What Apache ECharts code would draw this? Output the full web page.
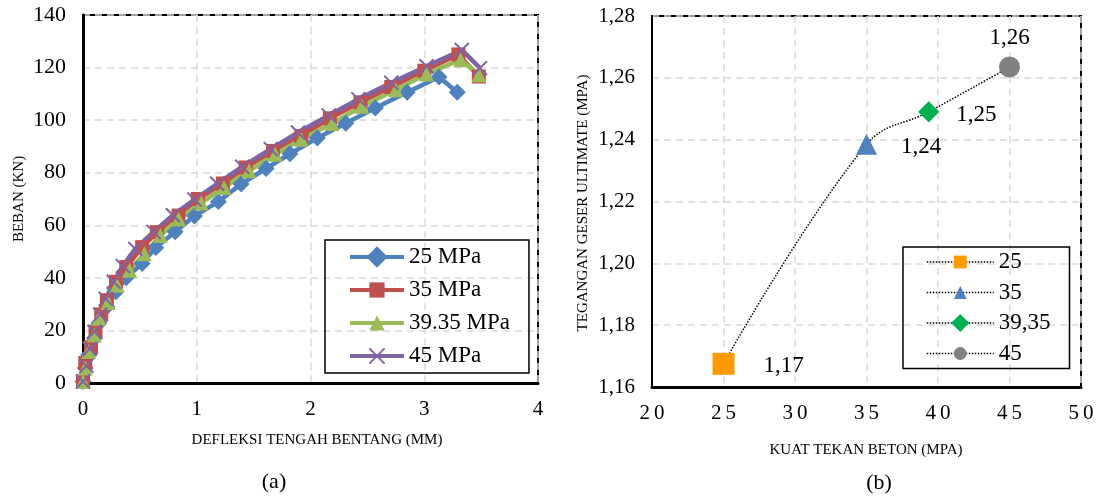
<!DOCTYPE html>
<html>
<head>
<meta charset="utf-8">
<script src="https://cdn.jsdelivr.net/npm/echarts@6/dist/echarts.min.js"></script>
<style>
  html, body { margin: 0; padding: 0; background: #fff; }
  #main { width: 1097px; height: 497px; }
</style>
</head>
<body>
<div id="main"></div>
<script>
// (a) beban vs defleksi
const def25 = [0, 0.02, 0.05, 0.10, 0.14, 0.21, 0.29, 0.38, 0.52, 0.64, 0.81, 0.98, 1.19, 1.39, 1.61, 1.82, 2.06, 2.31, 2.57, 2.85, 3.13, 3.29]
const load25 = [0.6, 5.7, 10.7, 17, 22.7, 29, 34.7, 40, 45.5, 51.5, 57.5, 63.5, 69, 75.7, 81.6, 87.2, 93.2, 98.8, 104.6, 110.6, 116.4, 110.6]
const def35 = [0, 0.02, 0.07, 0.11, 0.16, 0.21, 0.29, 0.38, 0.52, 0.65, 0.84, 1.01, 1.23, 1.43, 1.67, 1.92, 2.17, 2.44, 2.71, 3.00, 3.30, 3.48]
const load35 = [0.6, 7.6, 13.6, 19.5, 26.1, 31.5, 38.5, 44.1, 51.7, 57.4, 63.7, 70, 75.9, 82, 88.3, 94, 100.7, 106.8, 112.6, 118.8, 125, 116.6]
const def39 = [0, 0.02, 0.05, 0.10, 0.14, 0.22, 0.30, 0.41, 0.54, 0.68, 0.84, 1.04, 1.24, 1.46, 1.69, 1.92, 2.19, 2.45, 2.75, 3.02, 3.32, 3.48]
const load39 = [0.6, 5.7, 12, 18.3, 24.6, 30.6, 37.2, 42.9, 49.2, 56.1, 62.4, 68.5, 74.4, 80.7, 87, 92.7, 98.7, 105.3, 111.6, 117.6, 123, 117.3]
const def45 = [0, 0.03, 0.06, 0.10, 0.15, 0.20, 0.27, 0.35, 0.46, 0.62, 0.79, 0.98, 1.18, 1.40, 1.65, 1.89, 2.16, 2.42, 2.71, 3.02, 3.33, 3.49]
const load45 = [0.6, 6.5, 13, 19.5, 26, 32, 38.5, 44.5, 51, 57.5, 63.8, 69.8, 75.8, 82.3, 89, 95.3, 101.8, 108, 114.2, 120.5, 126.7, 119.8]
const namesA = ['25 MPa', '35 MPa', '39.35 MPa', '45 MPa']

// (b) tegangan geser vs kuat tekan
const kuatTekan = [25, 35, 39.35, 45]
const teganganGeser = [1.1675, 1.2385, 1.249, 1.2635]
const namesB = ['25', '35', '39,35', '45']

const serif = 'Liberation Serif'
const pairs = (xs, ys) => xs.map((x, i) => [x, ys[i]])
const comma = (v, d) => v.toFixed(d).replace('.', ',')

const gridLine = { show: true, lineStyle: { color: '#d9d9d9', width: 1.5, type: [7, 5] } }
const tickText = { fontFamily: serif, fontSize: 21, color: '#000' }

function lineSeries(name, xs, ys, color, symbol, extra) {
  return Object.assign({
    name: name,
    type: 'line',
    xAxisIndex: 0,
    yAxisIndex: 0,
    data: pairs(xs, ys),
    symbol: symbol,
    symbolSize: 14,
    lineStyle: { width: 4.5, color: color },
    itemStyle: { color: color },
    emphasis: { disabled: true },
    animation: false
  }, extra || {})
}

const colorsB = ['#ff9900', '#4f81bd', '#00b050', '#808080']
const symbolsB = ['rect', 'triangle', 'rect', 'circle']
const sizesB = [22, 21, 15, 21]
const labelPos = [
  { position: 'right', distance: 29, offset: [0, 2] },
  { position: 'right', distance: 24, offset: [0, 3] },
  { position: 'right', distance: 17, offset: [0, 3] },
  { position: 'top', distance: 7 }
]

const pointSeries = kuatTekan.map((x, i) => ({
  name: namesB[i],
  type: 'line',
  xAxisIndex: 1,
  yAxisIndex: 1,
  data: [[x, teganganGeser[i]]],
  symbol: symbolsB[i],
  symbolSize: sizesB[i],
  symbolRotate: i === 2 ? 45 : 0,
  itemStyle: { color: colorsB[i] },
  lineStyle: { type: 'dotted', color: '#000', width: 1.5 },
  label: Object.assign({
    show: true,
    fontFamily: serif,
    fontSize: 23,
    color: '#000',
    formatter: p => comma(p.value[1], 2)
  }, labelPos[i]),
  emphasis: { disabled: true },
  z: 5,
  animation: false
}))

const chart = echarts.init(document.getElementById('main'))
chart.setOption({
  backgroundColor: '#fff',
  animation: false,
  grid: [
    { left: 83, top: 15, width: 455, height: 368, show: true, borderColor: '#000', borderWidth: 2 },
    { left: 652, top: 16, width: 429, height: 371, show: true, borderColor: '#000', borderWidth: 2 }
  ],
  xAxis: [
    {
      gridIndex: 0, type: 'value', min: 0, max: 4, interval: 1,
      axisLine: { show: true, onZero: false, lineStyle: { color: '#000', width: 3 } },
      axisTick: { show: false },
      axisLabel: Object.assign({ margin: 16 }, tickText),
      splitLine: gridLine
    },
    {
      gridIndex: 1, type: 'value', min: 20, max: 50, interval: 5,
      axisLine: { show: true, onZero: false, lineStyle: { color: '#000', width: 3 } },
      axisTick: { show: false },
      axisLabel: Object.assign({ margin: 16, formatter: v => String(v).split('').join('\u2009') }, tickText),
      splitLine: gridLine
    }
  ],
  yAxis: [
    {
      gridIndex: 0, type: 'value', min: 0, max: 140, interval: 20,
      axisLine: { show: true, lineStyle: { color: '#000', width: 3 } },
      axisTick: { show: false },
      axisLabel: Object.assign({ margin: 17 }, tickText, { fontSize: 22 }),
      splitLine: gridLine
    },
    {
      gridIndex: 1, type: 'value', min: 1.16, max: 1.28, interval: 0.02,
      axisLine: { show: true, lineStyle: { color: '#000', width: 2 } },
      axisTick: { show: false },
      axisLabel: Object.assign({ margin: 17, formatter: v => comma(v, 2) }, tickText),
      splitLine: gridLine
    }
  ],
  legend: [
    {
      data: namesA,
      orient: 'vertical',
      left: 325,
      top: 240,
      padding: [5.5, 19, 5.5, 23],
      itemWidth: 54,
      itemHeight: 19,
      itemGap: 10,
      borderColor: '#000',
      borderWidth: 1.5,
      lineStyle: { width: 4 },
      textStyle: { fontFamily: serif, fontSize: 23, color: '#000', lineHeight: 23 }
    },
    {
      data: namesB,
      orient: 'vertical',
      left: 903,
      top: 247,
      padding: [3.5, 19, 3.5, 23],
      itemWidth: 67,
      itemHeight: 16,
      itemGap: 7.5,
      borderColor: '#000',
      borderWidth: 1.5,
      lineStyle: { width: 1.5, type: 'dotted', color: '#000' },
      textStyle: { fontFamily: serif, fontSize: 23, color: '#000', lineHeight: 23 }
    }
  ],
  graphic: [
    { type: 'text', x: 19, y: 199, rotation: Math.PI / 2, style: { text: 'BEBAN (KN)', font: '15px "Liberation Serif"', fill: '#000', textAlign: 'center', textVerticalAlign: 'middle' } },
    { type: 'text', x: 317, y: 440, style: { text: 'DEFLEKSI TENGAH BENTANG (MM)', font: '15px "Liberation Serif"', fill: '#000', textAlign: 'center', textVerticalAlign: 'middle' } },
    { type: 'text', x: 583, y: 203, rotation: Math.PI / 2, style: { text: 'TEGANGAN GESER ULTIMATE (MPA)', font: '15px "Liberation Serif"', fill: '#000', textAlign: 'center', textVerticalAlign: 'middle' } },
    { type: 'text', x: 866, y: 450, style: { text: 'KUAT TEKAN BETON (MPA)', font: '15px "Liberation Serif"', fill: '#000', textAlign: 'center', textVerticalAlign: 'middle' } },
    { type: 'text', x: 274, y: 482, style: { text: '(a)', font: '22px "Liberation Serif"', fill: '#000', textAlign: 'center', textVerticalAlign: 'middle' } },
    { type: 'text', x: 879, y: 483, style: { text: '(b)', font: '22px "Liberation Serif"', fill: '#000', textAlign: 'center', textVerticalAlign: 'middle' } }
  ],
  series: [
    lineSeries(namesA[0], def25, load25, '#4f81bd', 'rect', { symbolRotate: 45, symbolSize: 12 }),
    lineSeries(namesA[1], def35, load35, '#c0504d', 'rect'),
    lineSeries(namesA[2], def39, load39, '#9bbb59', 'triangle', { symbolSize: 15 }),
    lineSeries(namesA[3], def45, load45, '#8064a2', 'path://M0,0L10,10M10,0L0,10', {
      itemStyle: { color: '#8064a2', borderColor: '#8064a2', borderWidth: 2 }
    }),
    {
      name: 'trend',
      type: 'line',
      xAxisIndex: 1,
      yAxisIndex: 1,
      data: pairs(kuatTekan, teganganGeser),
      smooth: 0.4,
      symbol: 'none',
      lineStyle: { type: 'dotted', color: '#000', width: 1.5 },
      silent: true,
      z: 1,
      animation: false
    }
  ].concat(pointSeries)
})
</script>
</body>
</html>
